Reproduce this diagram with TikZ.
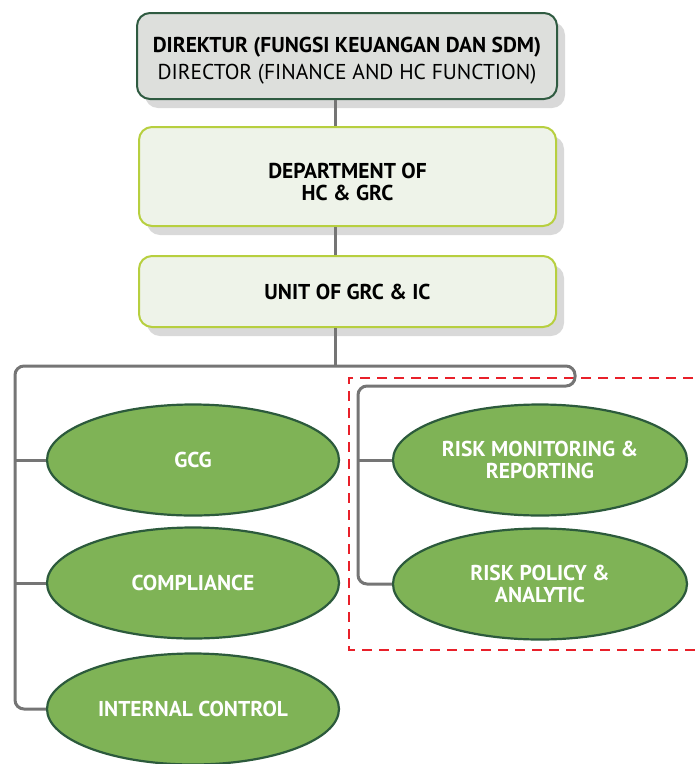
\documentclass[tikz,border=0pt]{standalone}
\usepackage{fontspec}
\setmainfont{PT Sans}
\usetikzlibrary{shapes.geometric,shadows}
\definecolor{dirfill}{HTML}{DDDFDC}
\definecolor{dirline}{HTML}{2F5B41}
\definecolor{deptfill}{HTML}{EEF3E9}
\definecolor{deptline}{HTML}{B7CF3F}
\definecolor{secfill}{HTML}{7FB356}
\definecolor{secline}{HTML}{2C5A3C}
\definecolor{linkgray}{HTML}{757575}
\definecolor{zonered}{HTML}{E8202A}
\tikzset{
  boxshadow/.style={drop shadow={shadow xshift=8pt,shadow yshift=-9pt,fill=black!15,opacity=1}},
  dirbox/.style={draw=dirline,fill=dirfill,line width=2pt,rounded corners=13pt,
    minimum width=420pt,minimum height=86pt,align=center,
    font=\fontsize{21.5}{27}\selectfont,boxshadow},
  deptbox/.style={draw=deptline,fill=deptfill,line width=2pt,rounded corners=13pt,
    minimum width=417pt,align=center,font=\bfseries\fontsize{21.5}{22}\selectfont,boxshadow},
  section/.style={ellipse,draw=secline,fill=secfill,line width=2.2pt,inner sep=0pt,
    minimum width=292pt,minimum height=111pt,align=center,text=white,
    font=\bfseries\fontsize{21.5}{22}\selectfont},
  link/.style={draw=linkgray,line width=3pt},
  riskzone/.style={draw=zonered,line width=2.6pt,dash pattern=on 10pt off 7pt}
}
\begin{document}
\begin{tikzpicture}[x=1pt,y=-1pt]
  \useasboundingbox (0,0) rectangle (699,764);
  % management line
  \node[dirbox] (dir) at (347,56)
    {\rule{0pt}{24pt}\textbf{DIREKTUR (FUNGSI KEUANGAN DAN SDM)}\\DIRECTOR (FINANCE AND HC FUNCTION)};
  \node[deptbox,minimum height=99pt] (dept) at (347.5,176.5) {\rule{0pt}{27pt}DEPARTMENT OF\\HC \& GRC};
  \node[deptbox,minimum height=71pt] (unit) at (347.5,291.5) {UNIT OF GRC \& IC};
  % sections
  \node[section] (gcg) at (193,460) {GCG};
  \node[section] (comp) at (193,583) {COMPLIANCE};
  \node[section] (ic) at (193,709) {INTERNAL CONTROL};
  \node[section,minimum width=294pt] (rm) at (540,460) {RISK MONITORING \&\\REPORTING};
  \node[section,minimum width=294pt] (rp) at (540,584) {RISK POLICY \&\\ANALYTIC};
  % risk area
  \draw[riskzone] (710,378) -| (349,650) -- (710,650);
  % connectors
  \coordinate (trunk) at (335,0);
  \coordinate (busL) at (15,366);
  \coordinate (busR) at (575,366);
  \coordinate (subR) at (575,386);
  \coordinate (subL) at (358,386);
  \draw[link] (dir.south -| trunk) -- (dept.north -| trunk);
  \draw[link] (dept.south -| trunk) -- (unit.north -| trunk);
  \draw[link] (unit.south -| trunk) -- (trunk |- busL);
  \draw[link,rounded corners=9pt] (ic.west) -| (busL) -- (busR) -- (subR) -- (subL) |- (rp.west);
  \draw[link] (gcg.west) -- (gcg.west -| busL);
  \draw[link] (comp.west) -- (comp.west -| busL);
  \draw[link] (rm.west) -- (rm.west -| subL);
\end{tikzpicture}
\end{document}
